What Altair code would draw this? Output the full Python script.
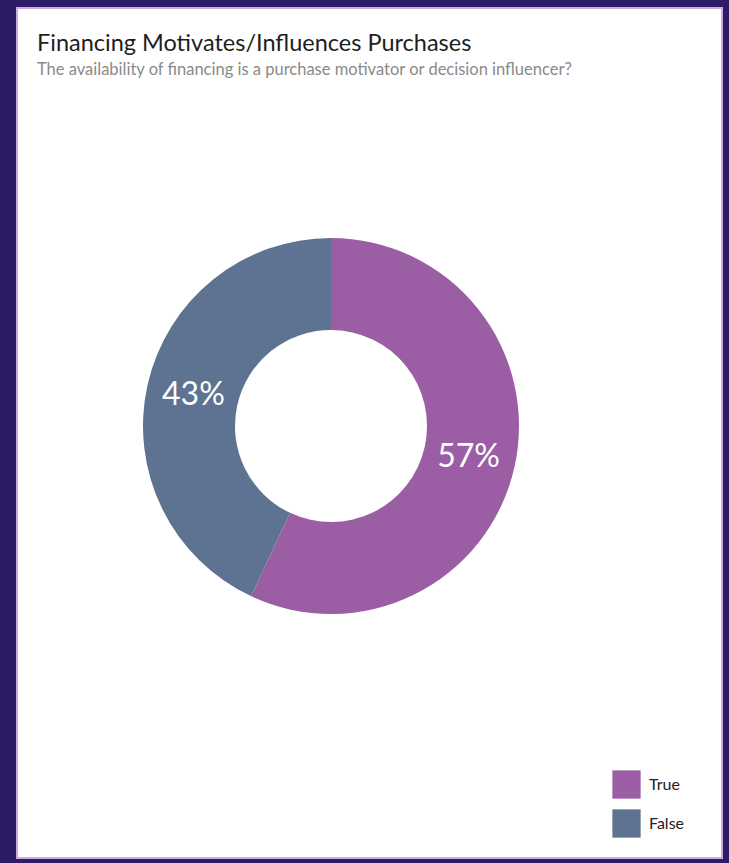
import altair as alt
import pandas as pd

categories = ["True", "False"]
values = [57, 43]
labels = ["57%", "43%"]
orders = [0, 1]
colors = ["#9b5ea5", "#5e7391"]

df = pd.DataFrame({"answer": categories, "value": values, "label": labels, "ord": orders})

base = alt.Chart(df).encode(
    theta=alt.Theta("value:Q", stack=True),
    order=alt.Order("ord:Q"),
)

arc = base.mark_arc(outerRadius=188, innerRadius=96, stroke=None).encode(
    x=alt.value(314),
    y=alt.value(418),
    color=alt.Color(
        "answer:N",
        scale=alt.Scale(domain=categories, range=colors),
        sort=categories,
        legend=alt.Legend(
            title=None,
            orient="none",
            legendX=595,
            legendY=762,
            symbolType="square",
            symbolSize=800,
            symbolStrokeWidth=0,
            symbolOpacity=1,
            labelFontSize=16,
            labelFont="Lato",
            labelColor="#222222",
            labelOffset=8,
            rowPadding=10,
        ),
    ),
)

text = base.mark_text(radius=141, fontSize=32, font="Lato", color="white").encode(
    x=alt.value(314),
    y=alt.value(418),
    text="label:N",
)

chart = (
    alt.layer(arc, text)
    .properties(
        width=705,
        height=850,
        padding={"left": 17, "top": 8, "right": 7, "bottom": 5},
        autosize=alt.AutoSizeParams(type="none"),
        background="#2c1b66",
        title=alt.TitleParams(
            text="Financing Motivates/Influences Purchases",
            subtitle="The availability of financing is a purchase motivator or decision influencer?",
            anchor="start",
            frame="group",
            orient="top",
            offset=-70,
            dx=20,
            font="Lato",
            fontSize=23.5,
            fontWeight="normal",
            color="#1e1e1e",
            subtitleFont="Lato",
            subtitleFontSize=16.5,
            subtitleColor="#8a8a8a",
            subtitlePadding=6,
        ),
    )
    .configure_view(fill="white", stroke="#d2a9de", strokeWidth=2)
)

chart.save("out.html", embed_options={"renderer": "svg", "actions": False})
